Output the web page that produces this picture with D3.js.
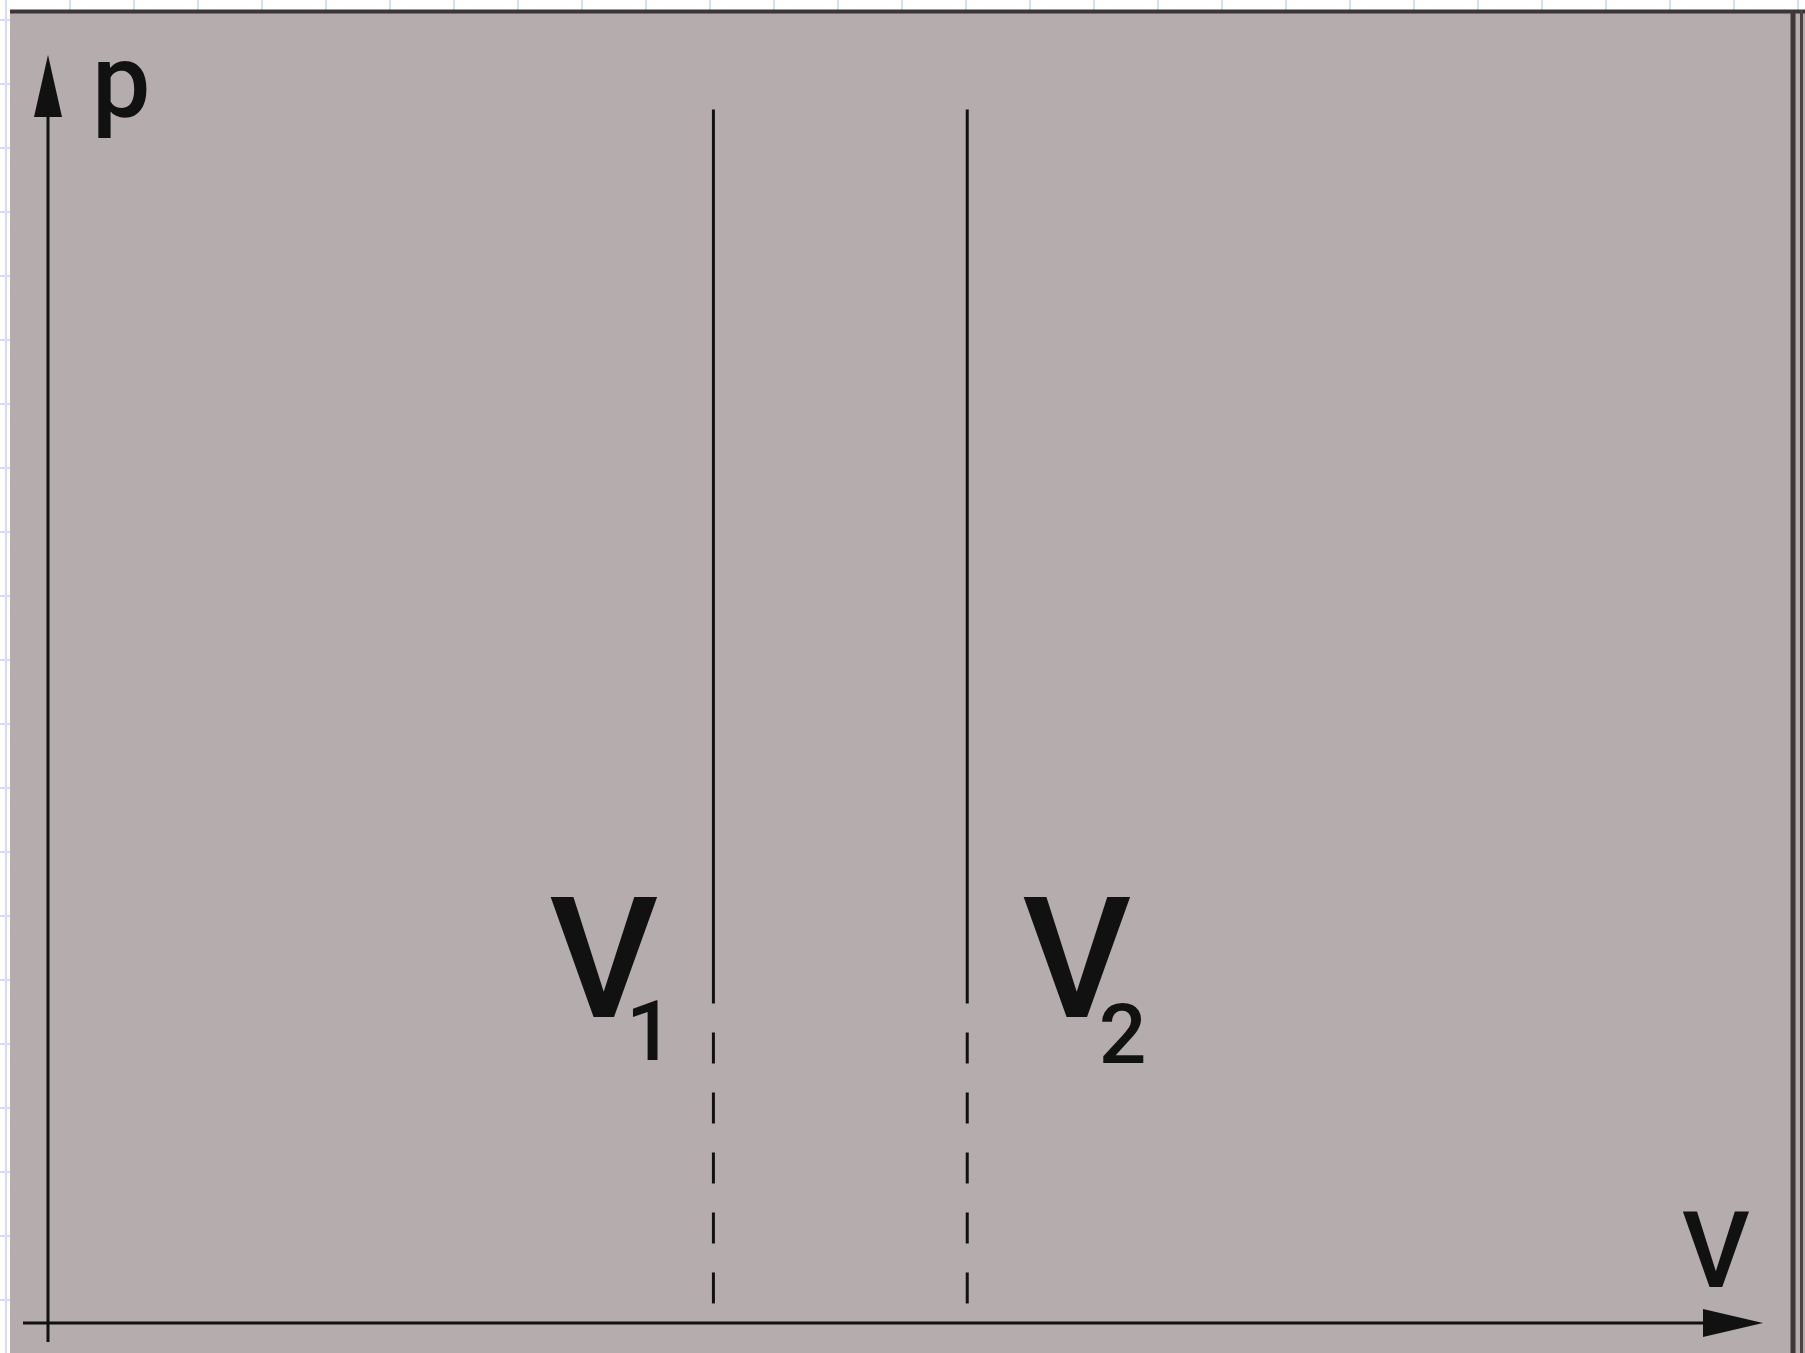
<!DOCTYPE html>
<html lang="en">
<head>
<meta charset="utf-8">
<script src="https://d3js.org/d3.v7.min.js"></script>
<title>p-V diagram</title>
<style>
  html, body { margin: 0; padding: 0; background: #fff; overflow: hidden; }
  svg { display: block; }
</style>
</head>
<body>
<script>
// data: two volumes marked on the V axis, with their labels
const volumeNames = ["1", "2"];
const volumes = [3.88, 5.36];        // position on V axis (0..10)
const solidTop = [9.57, 9.57];       // p where the solid line starts
const solidBottom = [2.52, 2.52];    // p where the line turns dashed
const axisLabels = ["p", "V"];

const W = 1805, H = 1353;

const svg = d3.select("body").append("svg")
    .attr("width", W)
    .attr("height", H);

// graph paper background
const grid = svg.append("g").attr("stroke", "#d3ddfb").attr("stroke-width", 2);
grid.selectAll("line.gx")
  .data(d3.range(6, W, 64))
  .join("line")
    .attr("x1", d => d).attr("x2", d => d)
    .attr("y1", 0).attr("y2", H);
grid.selectAll("line.gy")
  .data(d3.range(20, H, 64))
  .join("line")
    .attr("y1", d => d).attr("y2", d => d)
    .attr("x1", 0).attr("x2", W);

// gray panel
svg.append("rect")
    .attr("x", 10).attr("y", 10)
    .attr("width", W - 10).attr("height", H - 10)
    .attr("fill", "#b5adad");
svg.append("line")
    .attr("x1", 10).attr("x2", W)
    .attr("y1", 11.5).attr("y2", 11.5)
    .attr("stroke", "#3c3535").attr("stroke-width", 4);
svg.append("line")
    .attr("x1", 1793).attr("x2", 1793)
    .attr("y1", 10).attr("y2", H)
    .attr("stroke", "#3f3838").attr("stroke-width", 5);
svg.append("line")
    .attr("x1", 1801.5).attr("x2", 1801.5)
    .attr("y1", 10).attr("y2", H)
    .attr("stroke", "#4a4343").attr("stroke-width", 3);

// scales
const x = d3.scaleLinear().domain([0, 10]).range([48, 1763]);
const y = d3.scaleLinear().domain([0, 10]).range([1323, 55]);

const ink = "#111";
const font = "Roboto, 'Noto Sans', sans-serif";

// axes
const axes = svg.append("g").attr("stroke", ink).attr("stroke-width", 3);
axes.append("line")
    .attr("x1", x(0)).attr("x2", x(0))
    .attr("y1", y(0) + 19).attr("y2", y(10) + 60);
axes.append("line")
    .attr("x1", x(0) - 25).attr("x2", x(10) - 55)
    .attr("y1", y(0)).attr("y2", y(0));

// arrow heads
svg.append("path")
    .attr("d", d3.line()([[x(0), y(10)], [x(0) + 14, y(10) + 62], [x(0) - 14, y(10) + 62]]) + "Z")
    .attr("fill", ink);
svg.append("path")
    .attr("d", d3.line()([[x(10), y(0)], [x(10) - 60, y(0) - 14], [x(10) - 60, y(0) + 14]]) + "Z")
    .attr("fill", ink);

// axis labels
svg.append("text")
    .attr("x", x(0) + 44).attr("y", y(10) + 62)
    .attr("font-family", font).attr("font-size", 104)
    .attr("font-weight", 500)
    .attr("fill", ink)
    .text(axisLabels[0]);
svg.append("text")
    .attr("x", x(10) - 47).attr("y", y(0) - 36)
    .attr("text-anchor", "middle")
    .attr("font-family", font).attr("font-size", 105)
    .attr("font-weight", 500)
    .attr("fill", ink)
    .text(axisLabels[1]);

// volume markers
const marks = svg.selectAll("g.mark")
  .data(volumes.map((v, i) => ({v: v, name: volumeNames[i], top: solidTop[i], bot: solidBottom[i], side: i === 0 ? -1 : 1})))
  .join("g").attr("class", "mark");

marks.append("line")
    .attr("x1", d => x(d.v)).attr("x2", d => x(d.v))
    .attr("y1", d => y(d.top)).attr("y2", d => y(d.bot))
    .attr("stroke", ink).attr("stroke-width", 3);

marks.append("line")
    .attr("x1", d => x(d.v)).attr("x2", d => x(d.v))
    .attr("y1", d => y(d.bot)).attr("y2", y(0))
    .attr("stroke", ink).attr("stroke-width", 3)
    .attr("stroke-dasharray", "31 29")
    .attr("stroke-dashoffset", 31);

const lbl = marks.append("text")
    .attr("font-family", font)
    .attr("font-weight", 500)
    .attr("fill", ink);
lbl.append("tspan")
    .attr("x", d => x(d.v) + d.side * 109.5)
    .attr("y", 1017)
    .attr("text-anchor", "middle")
    .attr("font-size", 169)
    .text("V");
lbl.append("tspan")
    .attr("x", d => x(d.v) + d.side * 109.5 + 46)
    .attr("y", (d, i) => 1060 + i * 3)
    .attr("text-anchor", "middle")
    .attr("font-size", 84)
    .text(d => d.name);
</script>
</body>
</html>
